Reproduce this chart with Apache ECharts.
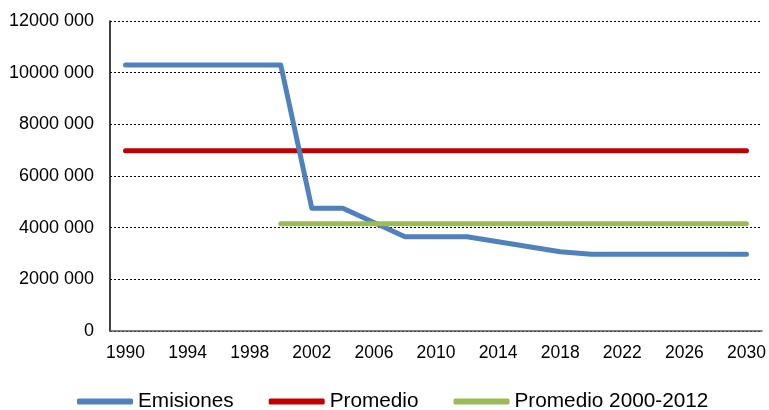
<!DOCTYPE html>
<html>
<head>
<meta charset="utf-8">
<script src="https://cdn.jsdelivr.net/npm/echarts@6/dist/echarts.min.js"></script>
<style>html,body{margin:0;padding:0;background:#fff}#c{width:769px;height:410px}</style>
</head>
<body>
<div id="c"></div>
<script>
const seriesNames = ['Emisiones', 'Promedio', 'Promedio 2000-2012'];
const emisionesYears = [1990, 2000, 2002, 2004, 2008, 2012, 2018, 2020, 2030];
const emisionesValues = [10300000, 10300000, 4750000, 4750000, 3650000, 3650000, 3070000, 2970000, 2970000];
const promedioYears = [1990, 2030];
const promedioValues = [6980000, 6980000];
const promedio2000Years = [2000, 2030];
const promedio2000Values = [4150000, 4150000];
const yTicks = [0, 2000000, 4000000, 6000000, 8000000, 10000000, 12000000];
const xLabelYears = [1990, 1994, 1998, 2002, 2006, 2010, 2014, 2018, 2022, 2026, 2030];

const pairs = (xs, ys) => xs.map((x, i) => [x, ys[i]]);
const fmtY = v => {
  if (v === 0) return '0';
  const s = String(v);
  return s.slice(0, s.length - 3) + ' ' + s.slice(-3);
};
const font = 'Liberation Sans, Arial, sans-serif';
const colors = ['#4F81BD', '#C00000', '#9BBB59'];

const chart = echarts.init(document.getElementById('c'), null, {renderer: 'canvas'});
chart.setOption({
  animation: false,
  color: colors,
  grid: {left: 110, right: 7, top: 21, bottom: 79, containLabel: false},
  legend: {
    left: 72, top: 386, itemGap: 35, itemWidth: 56, itemHeight: 6,
    icon: 'roundRect',
    textStyle: {fontFamily: font, fontSize: 20.75, color: '#000'},
    data: seriesNames
  },
  xAxis: {
    type: 'value', min: 1989, max: 2031, interval: 1,
    axisLine: {show: true, lineStyle: {color: '#595959', width: 1.5}},
    axisTick: {show: false},
    splitLine: {show: false},
    axisLabel: {
      margin: 13, fontFamily: font, fontSize: 17.5, color: '#000',
      formatter: v => xLabelYears.includes(v) ? String(v) : '',
      showMinLabel: true, showMaxLabel: true
    }
  },
  yAxis: {
    type: 'value', min: yTicks[0], max: yTicks[yTicks.length - 1], interval: 2000000,
    axisLine: {show: true, lineStyle: {color: '#000', width: 1.5}},
    axisTick: {show: false},
    splitLine: {show: true, lineStyle: {color: '#000', type: [2, 2], width: 1}},
    axisLabel: {margin: 16, fontFamily: font, fontSize: 18, color: '#000', formatter: fmtY}
  },
  series: [
    {name: seriesNames[0], type: 'line', data: pairs(emisionesYears, emisionesValues), showSymbol: false, symbol: 'none',
     lineStyle: {width: 5, cap: 'round', join: 'round'}, z: 3},
    {name: seriesNames[1], type: 'line', data: pairs(promedioYears, promedioValues), showSymbol: false, symbol: 'none',
     lineStyle: {width: 5, cap: 'round'}, z: 2},
    {name: seriesNames[2], type: 'line', data: pairs(promedio2000Years, promedio2000Values), showSymbol: false, symbol: 'none',
     lineStyle: {width: 5, cap: 'round'}, z: 4}
  ]
});
</script>
</body>
</html>
